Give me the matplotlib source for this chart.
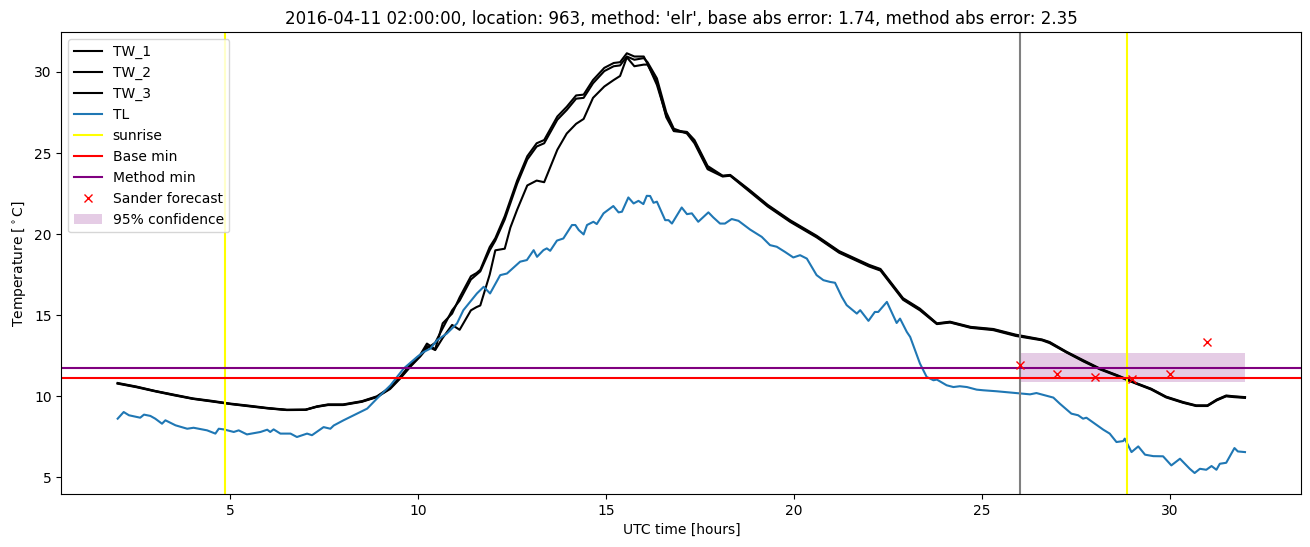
import numpy as np
import matplotlib
matplotlib.use("Agg")
import matplotlib.pyplot as plt

# wet-bulb style sensor temps (three sensors), hours UTC
tw_hours = [2.0, 2.5, 3.0, 3.5, 4.0, 4.5, 5.0, 5.5, 6.0, 6.5, 7.0, 7.3, 7.6, 8.0, 8.5, 8.9,
            9.25, 9.5, 9.8, 10.05, 10.23, 10.45, 10.65, 10.9, 11.1, 11.4, 11.55, 11.65, 11.9,
            12.05, 12.3, 12.45, 12.63, 12.9, 13.15, 13.35, 13.7, 13.95, 14.2, 14.4, 14.65,
            14.95, 15.2, 15.37, 15.55, 15.75, 16.0, 16.1, 16.35, 16.6, 16.8, 17.15, 17.35,
            17.7, 18.1, 18.3, 18.8, 19.3, 19.9, 20.6, 21.2, 22.0, 22.3, 22.9, 23.35, 23.8,
            24.15, 24.7, 25.3, 25.9, 26.6, 26.8, 27.25, 27.7, 28.15, 28.6, 29.1, 29.5, 29.9,
            30.35, 30.7, 31.0, 31.25, 31.5, 31.7, 32.0]
tw_1 = [10.82, 10.6, 10.33, 10.1, 9.87, 9.72, 9.55, 9.42, 9.28, 9.17, 9.18, 9.38, 9.5, 9.5,
        9.7, 10.0, 10.55, 11.15, 12.0, 12.55, 13.25, 12.9, 14.5, 15.1, 16.1, 17.4, 17.6, 17.8,
        19.2, 19.75, 21.1, 22.1, 23.3, 24.8, 25.6, 25.8, 27.25, 27.85, 28.55, 28.6, 29.5,
        30.25, 30.55, 30.6, 31.15, 30.95, 30.95, 30.5, 29.2, 27.3, 26.4, 26.3, 25.8, 24.2,
        23.6, 23.65, 22.75, 21.8, 20.85, 19.9, 18.95, 18.1, 17.85, 16.05, 15.4, 14.5, 14.6,
        14.28, 14.15, 13.8, 13.5, 13.35, 12.75, 12.22, 11.7, 11.3, 10.82, 10.47, 9.98, 9.65,
        9.44, 9.44, 9.8, 10.05, 10.0, 9.95]
tw_2 = [10.78, 10.56, 10.3, 10.06, 9.84, 9.68, 9.52, 9.38, 9.25, 9.15, 9.16, 9.35, 9.46,
        9.46, 9.66, 9.95, 10.45, 11.05, 11.85, 12.45, 12.95, 13.3, 14.2, 15.3, 15.9, 17.2,
        17.5, 17.7, 19.0, 19.6, 20.9, 21.9, 23.1, 24.6, 25.4, 25.6, 27.05, 27.65, 28.35,
        28.4, 29.3, 30.05, 30.35, 30.4, 30.95, 30.75, 30.85, 30.6, 29.6, 27.5, 26.5, 26.2,
        25.6, 24.0, 23.55, 23.6, 22.65, 21.7, 20.75, 19.8, 18.85, 18.0, 17.75, 15.95, 15.3,
        14.45, 14.55, 14.22, 14.08, 13.72, 13.45, 13.28, 12.7, 12.15, 11.65, 11.25, 10.78,
        10.42, 9.93, 9.6, 9.4, 9.4, 9.75, 10.0, 9.95, 9.9]
tw_3 = [10.8, 10.58, 10.32, 10.08, 9.85, 9.7, 9.53, 9.4, 9.26, 9.16, 9.17, 9.36, 9.48, 9.48,
        9.68, 9.97, 10.5, 11.1, 11.9, 12.5, 13.1, 12.85, 13.6, 14.4, 14.1, 15.3, 15.5, 15.6,
        17.5, 19.0, 19.1, 20.4, 21.5, 23.0, 23.3, 23.2, 25.2, 26.2, 26.8, 27.1, 28.4, 29.1,
        29.5, 29.75, 30.9, 30.35, 30.45, 30.45, 29.4, 27.2, 26.35, 26.25, 25.7, 24.1, 23.58,
        23.62, 22.7, 21.75, 20.8, 19.85, 18.9, 18.05, 17.8, 16.0, 15.35, 14.48, 14.57, 14.25,
        14.12, 13.76, 13.48, 13.32, 12.72, 12.18, 11.68, 11.28, 10.8, 10.45, 9.96, 9.62,
        9.42, 9.42, 9.78, 10.02, 9.98, 9.93]

# air temperature
tl_hours = [2.0, 2.16, 2.3, 2.6, 2.7, 2.87, 3.0, 3.18, 3.27, 3.54, 3.85, 4.02, 4.38, 4.6, 4.69,
            4.82, 5.09, 5.22, 5.44, 5.8, 5.98, 6.06, 6.15, 6.33, 6.6, 6.77, 7.04, 7.17, 7.48,
            7.66, 7.75, 8.01, 8.28, 8.64, 8.9, 9.26, 9.61, 9.97, 10.14, 10.32, 10.5, 10.76,
            11.03, 11.2, 11.56, 11.74, 11.91, 12.18, 12.36, 12.71, 12.89, 13.07, 13.16, 13.33,
            13.42, 13.51, 13.69, 13.86, 14.09, 14.18, 14.27, 14.4, 14.49, 14.66, 14.75, 14.93,
            15.19, 15.33, 15.42, 15.59, 15.73, 15.86, 15.99, 16.08, 16.17, 16.26, 16.35, 16.57,
            16.66, 16.75, 17.01, 17.15, 17.28, 17.45, 17.72, 17.85, 18.03, 18.16, 18.34, 18.52,
            18.83, 19.14, 19.36, 19.54, 19.76, 19.98, 20.16, 20.34, 20.6, 20.78, 20.96, 21.09,
            21.27, 21.4, 21.67, 21.76, 21.98, 22.15, 22.24, 22.47, 22.73, 22.82, 23.0, 23.09,
            23.35, 23.53, 23.71, 23.8, 24.06, 24.24, 24.41, 24.6, 24.86, 25.04, 25.39, 25.92,
            26.28, 26.45, 26.9, 27.07, 27.38, 27.56, 27.69, 27.78, 28.23, 28.4, 28.58, 28.76,
            28.8, 28.98, 29.16, 29.34, 29.56, 29.82, 30.04, 30.27, 30.53, 30.66, 30.8, 30.97,
            31.11, 31.24, 31.33, 31.5, 31.72, 31.81, 32.0]
tl = [8.62, 9.03, 8.83, 8.68, 8.87, 8.79, 8.62, 8.31, 8.52, 8.21, 8.0, 8.06, 7.9, 7.7, 8.0,
      7.96, 7.8, 7.9, 7.65, 7.8, 7.94, 7.8, 7.96, 7.7, 7.7, 7.49, 7.7, 7.6, 8.1, 8.0, 8.2,
      8.52, 8.83, 9.24, 9.86, 10.68, 11.71, 12.43, 12.73, 12.94, 13.46, 13.87, 14.49, 15.31,
      16.34, 16.75, 16.34, 17.47, 17.57, 18.3, 18.4, 19.01, 18.6, 19.01, 19.12, 18.97, 19.6,
      19.73, 20.56, 20.56, 20.25, 19.98, 20.56, 20.76, 20.62, 21.28, 21.73, 21.34, 21.38,
      22.26, 21.89, 22.05, 21.85, 22.36, 22.35, 21.93, 22.0, 20.86, 20.86, 20.65, 21.64,
      21.23, 21.28, 20.76, 21.34, 21.03, 20.65, 20.65, 20.93, 20.82, 20.28, 19.83, 19.32,
      19.22, 18.9, 18.56, 18.7, 18.49, 17.47, 17.16, 17.05, 17.0, 16.13, 15.62, 15.1, 15.31,
      14.65, 15.2, 15.2, 15.82, 14.52, 14.79, 13.97, 13.66, 12.02, 11.19, 10.99, 11.03,
      10.68, 10.57, 10.62, 10.57, 10.41, 10.37, 10.31, 10.2, 10.12, 10.2, 9.92, 9.55, 8.93,
      8.83, 8.62, 8.68, 7.94, 7.7, 7.18, 7.24, 7.39, 6.56, 6.91, 6.4, 6.31, 6.3, 5.74, 6.15,
      5.53, 5.27, 5.53, 5.47, 5.7, 5.47, 5.84, 5.9, 6.81, 6.6, 6.56]

sunrise_hours = [4.85, 28.85]
forecast_time = 26.0
base_min = 11.11
method_min = 11.73
sander_hours = [26, 27, 28, 29, 30, 31]
sander_temps = [11.92, 11.36, 11.18, 11.08, 11.36, 13.37]
conf_hours = [26, 32]
conf_low = 10.86
conf_high = 12.65

fig = plt.figure(figsize=(13.1, 5.47), dpi=100)
ax = fig.add_axes([0.0468, 0.0969, 0.9466, 0.8441])

ax.plot(tw_hours, tw_1, color="black", label="TW_1")
ax.plot(tw_hours, tw_2, color="black", label="TW_2")
ax.plot(tw_hours, tw_3, color="black", label="TW_3")
ax.plot(tl_hours, tl, color="tab:blue", label="TL")
ax.axvline(sunrise_hours[0], color="yellow", label="sunrise")
ax.axvline(sunrise_hours[1], color="yellow")
ax.axvline(forecast_time, color="gray")
ax.axhline(base_min, color="red", label="Base min")
ax.axhline(method_min, color="purple", label="Method min")
ax.plot(sander_hours, sander_temps, "rx", label="Sander forecast")
ax.fill_between(conf_hours, conf_low, conf_high, color="purple", alpha=0.2,
                linewidth=0, label="95% confidence")

ax.set_xlabel("UTC time [hours]")
ax.set_ylabel(r"Temperature [$^\circ$C]")
ax.set_title("2016-04-11 02:00:00, location: 963, method: 'elr', base abs error: 1.74, "
             "method abs error: 2.35")
ax.legend(loc="upper left")

fig.savefig("out.png")
